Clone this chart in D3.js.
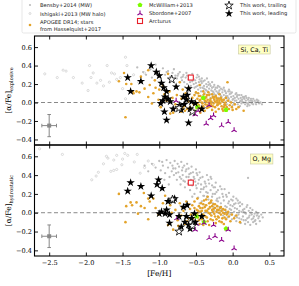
<!DOCTYPE html>
<html>
<head>
<style>
  body { margin: 0; background: #fff; }
  svg { display: block; }
</style>
</head>
<body>
  <div id="chart"></div>
</body>
<script src="https://d3js.org/d3.v7.min.js"></script>
<script>
// ---- data: [feh, alpha/Fe] ----
const bensbyTop = [
  [-1.30,0.38],[-1.22,0.33],[-1.18,0.30],[-1.12,0.36],[-1.05,0.41],[-1.00,0.34],[-0.95,0.37],[-0.92,0.30],
  [-0.88,0.34],[-0.85,0.28],[-0.82,0.32],[-0.80,0.36],[-0.78,0.29],[-0.76,0.26],[-0.74,0.31],[-0.72,0.33],
  [-0.70,0.27],[-0.69,0.24],[-0.67,0.30],[-0.66,0.22],[-0.64,0.27],[-0.63,0.32],[-0.62,0.20],[-0.60,0.25],
  [-0.59,0.29],[-0.58,0.22],[-0.57,0.18],[-0.56,0.26],[-0.55,0.23],[-0.54,0.28],[-0.53,0.20],[-0.52,0.16],
  [-0.51,0.24],[-0.50,0.21],[-0.49,0.27],[-0.48,0.18],[-0.47,0.14],[-0.46,0.22],[-0.45,0.25],[-0.44,0.19],
  [-0.43,0.12],[-0.42,0.21],[-0.41,0.16],[-0.40,0.23],[-0.39,0.18],[-0.38,0.10],[-0.37,0.14],[-0.36,0.20],
  [-0.35,0.17],[-0.34,0.12],[-0.33,0.22],[-0.32,0.15],[-0.31,0.09],[-0.30,0.18],[-0.29,0.13],[-0.28,0.16],
  [-0.27,0.07],[-0.26,0.11],[-0.25,0.19],[-0.24,0.14],[-0.23,0.08],[-0.22,0.12],[-0.21,0.16],[-0.20,0.10],
  [-0.19,0.05],[-0.18,0.13],[-0.17,0.09],[-0.16,0.15],[-0.15,0.06],[-0.14,0.11],[-0.13,0.03],[-0.12,0.08],
  [-0.11,0.13],[-0.10,0.05],[-0.09,0.10],[-0.08,0.02],[-0.07,0.07],[-0.06,0.12],[-0.05,0.04],[-0.04,0.09],
  [-0.03,0.01],[-0.02,0.06],[-0.01,0.11],[0.00,0.03],[0.01,0.07],[0.02,-0.01],[0.03,0.05],[0.04,0.09],
  [0.05,0.02],[0.06,0.06],[0.07,-0.02],[0.08,0.04],[0.09,0.08],[0.10,0.01],[0.11,0.05],[0.12,-0.01],
  [0.13,0.03],[0.14,0.06],[0.15,0.00],[0.16,0.04],[0.17,-0.02],[0.18,0.02],[0.19,0.05],[0.20,-0.01],
  [0.21,0.03],[0.22,0.00],[0.23,-0.03],[0.24,0.02],[0.25,0.04],[0.26,-0.01],[0.27,0.01],[0.28,-0.02],
  [0.30,0.02],[0.31,0.00],[0.32,-0.02],[0.34,0.01],[0.36,-0.01],[0.38,0.00],[0.40,-0.02],
  [-0.55,0.31],[-0.48,0.30],[-0.35,0.26],[-0.28,0.22],[-0.20,0.18],[-0.12,0.16],[-0.05,0.14],[0.05,0.10],
  [0.12,0.08],[-0.40,0.08],[-0.30,0.05],[-0.22,0.03],[-0.15,0.01],[-0.08,-0.02],[0.00,-0.03],[0.10,-0.04],
  [0.20,-0.04],[-0.65,0.17],[-0.72,0.22],[-0.85,0.22],[-0.98,0.25],[-1.10,0.27],[-0.60,0.12],[-0.50,0.10],
  [-0.12,-0.04],[0.18,0.07],[0.28,0.04],[-0.46,0.28],[-0.42,0.26],[-0.38,0.24],[-0.33,0.19],[-0.26,0.17],
  [-0.18,0.17],[-0.10,0.12],[-0.02,0.10],[0.07,0.08],[0.15,0.05],[0.22,0.05],[0.33,0.03],[-0.44,0.16],
  [-0.36,0.13],[-0.25,0.09],[-0.16,0.07],[-0.06,0.05],[0.03,0.02],[0.13,0.01],[-0.58,0.27],[-0.68,0.28],
  [-0.53,0.25],[-0.43,0.23],[-0.31,0.20],[-0.23,0.16],[-0.14,0.14],[-0.04,0.12],[0.06,0.07],[0.16,0.06],
  [0.26,0.02],[0.35,0.02],[-0.50,0.17],[-0.39,0.15],[-0.27,0.12],[-0.19,0.11],[-0.09,0.07],[0.01,0.04],
  [0.11,0.02],[0.21,-0.02],[-0.75,0.29],[-0.62,0.29],[-0.90,0.33]
];
const bensbyBot = [
  [-1.10,0.52],[-1.05,0.48],[-1.00,0.55],[-0.98,0.45],[-0.95,0.50],[-0.92,0.42],[-0.90,0.56],[-0.88,0.48],
  [-0.86,0.38],[-0.85,0.53],[-0.83,0.44],[-0.82,0.50],[-0.80,0.40],[-0.79,0.55],[-0.78,0.47],[-0.76,0.35],
  [-0.75,0.52],[-0.74,0.43],[-0.73,0.49],[-0.72,0.38],[-0.71,0.30],[-0.70,0.54],[-0.69,0.45],[-0.68,0.40],
  [-0.67,0.34],[-0.66,0.50],[-0.65,0.27],[-0.64,0.44],[-0.63,0.38],[-0.62,0.52],[-0.61,0.31],[-0.60,0.47],
  [-0.59,0.41],[-0.58,0.24],[-0.57,0.35],[-0.56,0.49],[-0.55,0.29],[-0.54,0.43],[-0.53,0.38],[-0.52,0.20],
  [-0.51,0.33],[-0.50,0.46],[-0.49,0.26],[-0.48,0.40],[-0.47,0.16],[-0.46,0.35],[-0.45,0.43],[-0.44,0.22],
  [-0.43,0.30],[-0.42,0.12],[-0.41,0.38],[-0.40,0.25],[-0.39,0.18],[-0.38,0.33],[-0.37,0.08],[-0.36,0.28],
  [-0.35,0.40],[-0.34,0.21],[-0.33,0.14],[-0.32,0.31],[-0.31,0.05],[-0.30,0.24],[-0.29,0.36],[-0.28,0.17],
  [-0.27,0.10],[-0.26,0.27],[-0.25,0.02],[-0.24,0.20],[-0.23,0.32],[-0.22,0.13],[-0.21,0.07],[-0.20,0.24],
  [-0.19,0.00],[-0.18,0.16],[-0.17,0.28],[-0.16,0.10],[-0.15,0.04],[-0.14,0.20],[-0.13,-0.03],[-0.12,0.13],
  [-0.11,0.25],[-0.10,0.07],[-0.09,0.01],[-0.08,0.17],[-0.07,-0.05],[-0.06,0.10],[-0.05,0.21],[-0.04,0.04],
  [-0.03,-0.02],[-0.02,0.14],[-0.01,-0.07],[0.00,0.07],[0.01,0.17],[0.02,0.01],[0.03,-0.04],[0.04,0.10],
  [0.05,-0.09],[0.06,0.04],[0.07,0.13],[0.08,-0.02],[0.09,-0.06],[0.10,0.07],[0.11,-0.11],[0.12,0.01],
  [0.13,0.09],[0.14,-0.04],[0.15,-0.08],[0.16,0.04],[0.17,-0.12],[0.18,-0.01],[0.19,0.06],[0.20,-0.06],
  [0.21,-0.10],[0.22,0.02],[0.23,-0.03],[0.24,-0.13],[0.25,0.00],[0.26,-0.07],[0.27,0.03],[0.28,-0.10],
  [0.29,-0.04],[0.30,-0.01],[0.31,-0.08],[0.32,-0.12],[0.33,-0.03],[0.35,-0.06],[0.37,-0.09],[0.39,-0.02],
  [0.41,-0.05],[0.21,0.37],[-1.20,0.50],[-1.15,0.44],[-0.93,0.35],[-0.87,0.30],[-0.77,0.42],[-0.70,0.36],
  [-0.63,0.46],[-0.57,0.42],[-0.52,0.36],[-0.47,0.31],[-0.44,0.37],[-0.40,0.18],[-0.36,0.22],[-0.33,0.35],
  [-0.30,0.11],[-0.27,0.20],[-0.24,0.27],[-0.21,0.15],[-0.18,0.06],[-0.15,0.25],[-0.12,0.03],[-0.09,0.19],
  [-0.06,-0.01],[-0.03,0.08],[0.00,0.13],[0.03,0.05],[0.06,-0.05],[0.09,0.02],[0.12,-0.07],[0.15,0.01],
  [0.18,-0.08],[0.22,-0.05],[0.26,-0.02],[0.30,-0.09],[0.34,-0.01],[0.08,0.10],[-0.26,0.06],[-0.39,0.27],
  [-0.55,0.17],[-0.68,0.48],[-0.81,0.47],[-0.96,0.54],[-0.60,0.38],[-0.49,0.42],[-0.02,0.03],[0.14,0.03],
  [-0.65,0.33],[-0.58,0.30],[-0.50,0.29],[-0.43,0.25],[-0.35,0.17],[-0.28,0.29],[-0.20,0.12],[-0.13,0.17],
  [-0.05,0.12],[0.02,0.09],[0.10,0.11],[0.17,0.00],[0.24,0.05],[0.32,0.01],[-0.45,0.10],[-0.37,0.31],
  [-0.30,0.38],[-0.22,0.22],[-0.16,0.02],[-0.08,0.06],[0.05,0.15],[0.20,0.08],[0.28,-0.06],[0.36,-0.04]
];
const ishigakiTop = [
  [-2.56,0.31],[-2.31,0.35],[-2.27,0.34],[-2.39,0.27],[-2.17,0.27],[-2.05,0.21],[-1.97,0.13],[-1.95,0.40],
  [-1.93,0.27],[-1.90,0.32],[-1.85,0.21],[-1.80,0.24],[-1.71,0.40],[-1.76,0.18],[-1.68,0.22],[-1.58,0.25],
  [-1.61,0.31],[-1.53,0.27],[-1.46,0.49],[-1.44,0.40],[-1.46,0.04],[-1.50,0.15],[-1.65,0.32],[-1.35,0.30],
  [-1.28,0.22],[-1.20,0.32]
];
const ishigakiBot = [
  [-2.63,0.68],[-2.32,0.62],[-1.92,0.35],[-1.86,0.39],[-1.83,0.43],[-1.76,0.52],[-1.70,0.58],[-1.66,0.44],
  [-1.62,0.56],[-1.58,0.61],[-1.58,0.46],[-1.51,0.51],[-1.50,0.57],[-1.43,0.61],[-1.34,0.54],[-1.30,0.62],
  [-1.26,0.42],[-1.20,0.48],[-1.15,0.55],[-1.72,0.60],[-1.47,0.63],[-1.62,0.45],[-1.08,0.51]
];
const apogeeTop = [
  [-1.48,0.32],[-1.55,0.23],[-1.46,-0.16],[-1.45,0.20],[-1.38,0.20],[-1.36,0.12],[-1.31,0.12],[-1.27,0.11],
  [-1.35,0.10],[-1.15,0.35],[-1.13,0.19],[-1.15,0.06],[-1.08,0.10],[-1.06,0.24],[-1.01,0.03],[-1.10,-0.01],
  [-0.88,0.31],[-0.85,-0.12],[-0.81,-0.11],[-0.72,0.22],[-0.68,0.14],[-0.76,0.08],[-0.07,0.22],[-0.45,0.19],
  [0.15,-0.09],[0.05,-0.07],[-0.01,-0.05],[-1.20,0.15],[-1.05,0.16],[-0.95,0.18],[-0.93,0.09],[-0.90,0.02],
  [-0.98,-0.05],[-0.78,-0.02],[-0.75,-0.06],[-0.70,0.04],[-0.66,-0.04],[-0.64,0.10],[-1.25,0.28],[-0.60,0.16],
  [-0.55,0.05],[-0.53,-0.02],[-0.52,0.08],[-0.50,0.00],[-0.49,-0.06],[-0.48,0.04],[-0.47,0.10],[-0.46,-0.03],
  [-0.45,0.02],[-0.44,0.07],[-0.43,-0.08],[-0.42,0.00],[-0.41,0.05],[-0.40,-0.04],[-0.39,0.09],[-0.38,0.02],
  [-0.37,-0.02],[-0.36,0.06],[-0.35,-0.06],[-0.34,0.03],[-0.33,0.00],[-0.32,0.08],[-0.31,-0.04],[-0.30,0.04],
  [-0.29,0.01],[-0.28,-0.08],[-0.27,0.06],[-0.26,-0.01],[-0.25,0.03],[-0.24,-0.05],[-0.23,0.07],[-0.22,0.00],
  [-0.21,-0.03],[-0.20,0.04],[-0.19,-0.07],[-0.18,0.02],[-0.17,-0.01],[-0.16,0.05],[-0.15,-0.04],[-0.14,0.01],
  [-0.13,-0.09],[-0.12,0.03],[-0.11,-0.02],[-0.10,0.00],[-0.08,-0.05],[-0.06,0.02],[-0.04,-0.03],[-0.02,0.00],
  [0.00,-0.08],[0.03,-0.02],[0.08,-0.05],[-0.58,-0.05],[-0.60,0.01],[-0.62,-0.07],[-0.65,-0.09],[-0.68,-0.06],
  [-0.70,-0.10],[-0.72,-0.04],[-0.57,-0.10],[-0.52,-0.09],[-0.44,-0.11],[-0.38,-0.09],[-0.33,0.11],[-0.28,0.09],
  [-0.23,-0.10],[-0.18,0.09],[-0.14,-0.07],[-0.09,0.05],[-0.05,-0.07],[-0.40,0.12],[-0.50,0.11],[-0.48,-0.01],
  [-0.44,0.03],[-0.41,-0.01],[-0.36,0.01],[-0.33,-0.05],[-0.29,-0.03],[-0.26,0.05],[-0.21,0.02],[-0.17,0.04],
  [-0.12,-0.05],[-0.46,0.07],[-0.39,0.04],[-0.31,0.02],[-0.24,0.01],[-0.19,0.00],[-0.27,-0.04],[-0.35,0.08],
  [-0.42,-0.05],[-0.82,0.05],[-0.86,0.12],[-1.00,0.14],[-0.62,0.04],[-0.37,0.05],[-0.30,-0.01],[-0.25,0.06],
  [-0.20,-0.02],[-0.15,0.03],[-0.10,-0.03],[-0.45,-0.06],[-0.34,-0.03],[-0.22,0.05]
];
const apogeeBot = [
  [-1.55,0.20],[-1.46,-0.10],[-1.45,0.07],[-1.39,0.11],[-1.37,0.08],[-1.31,0.11],[-1.29,-0.01],[-1.25,0.07],
  [-1.20,0.05],[-1.15,-0.07],[-1.15,0.15],[-1.21,0.21],[-1.13,0.12],[-1.08,0.15],[-1.05,0.05],[-1.01,-0.02],
  [-0.88,-0.13],[-0.81,-0.18],[-0.95,0.10],[-0.92,0.18],[-0.85,0.08],[-0.78,0.03],[-0.75,-0.08],[-0.72,0.10],
  [-0.70,-0.03],[-0.67,0.02],[-0.65,-0.12],[-0.63,0.12],[-0.60,-0.06],[-0.58,0.04],[-0.56,-0.15],[-0.55,0.08],
  [-0.53,-0.02],[-0.52,0.12],[-0.50,-0.09],[-0.49,0.03],[-0.48,0.15],[-0.47,-0.05],[-0.46,0.07],[-0.45,-0.12],
  [-0.44,0.01],[-0.43,0.10],[-0.42,-0.07],[-0.41,0.05],[-0.40,-0.02],[-0.39,0.13],[-0.38,-0.10],[-0.37,0.02],
  [-0.36,0.08],[-0.35,-0.05],[-0.34,0.17],[-0.33,0.00],[-0.32,-0.13],[-0.31,0.06],[-0.30,0.11],[-0.29,-0.03],
  [-0.28,0.03],[-0.27,-0.08],[-0.26,0.09],[-0.25,-0.01],[-0.24,0.05],[-0.23,-0.11],[-0.22,0.01],[-0.21,0.07],
  [-0.20,-0.04],[-0.19,0.03],[-0.18,-0.09],[-0.17,0.05],[-0.16,-0.02],[-0.15,0.02],[-0.14,-0.06],[-0.13,0.04],
  [-0.12,-0.12],[-0.11,-0.01],[-0.10,0.03],[-0.09,-0.07],[-0.07,0.00],[-0.05,-0.04],[-0.03,-0.09],[-0.01,-0.02],
  [0.02,-0.06],[0.05,-0.03],[0.10,-0.10],[-0.48,-0.01],[-0.44,0.05],[-0.40,0.09],[-0.37,-0.04],[-0.33,0.04],
  [-0.30,-0.07],[-0.27,0.01],[-0.24,-0.04],[-0.21,0.03],[-0.18,0.00],[-0.15,-0.10],[-0.36,0.14],[-0.32,0.10],
  [-0.42,0.02],[-0.46,-0.08],[-0.52,0.05],[-0.57,-0.02],[-0.62,-0.09],[-0.69,0.06],[-0.74,-0.14],[-0.28,0.07],
  [-0.22,-0.07],[-0.16,0.06],[-0.11,-0.05],[-0.06,0.01],[-0.40,-0.13],[-0.34,-0.09],[-0.60,0.09],[-0.83,0.00],
  [-0.43,-0.03],[-0.38,0.06],[-0.31,-0.01],[-0.26,0.04],[-0.19,-0.05],[-0.13,0.00],[-0.08,-0.02],[-0.35,0.02],
  [-0.29,0.13],[-0.24,0.09],[-0.47,0.02],[-0.54,-0.06]
];
const mcwTop = [[-0.48,-0.05],[-0.40,0.05],[-0.09,-0.08]];
const mcwBot = [[-0.49,-0.04],[-0.39,-0.10],[-0.09,-0.17]];
const sbordTop = [[-0.77,0.02],[-0.51,-0.13],[-0.47,-0.09],[-0.32,-0.03],[-0.36,-0.23],[-0.30,-0.17],
  [-0.26,-0.14],[-0.15,-0.25],[-0.06,-0.21],[0.02,-0.30]];
const sbordBot = [[-0.76,-0.06],[-0.51,-0.18],[-0.49,-0.12],[-0.39,-0.11],[-0.32,-0.27],[-0.26,-0.13],
  [-0.24,-0.25],[-0.15,-0.29],[-0.06,-0.18],[0.02,-0.38]];
const arcturusTop = [[-0.57,0.27]];
const arcturusBot = [[-0.57,0.32]];
const leadTop = [
  [-1.11,0.40],[-1.43,0.27],[-1.25,0.23],[-1.39,0.12],[-1.04,0.33],[-1.00,0.29],[-0.97,0.21],[-0.94,0.16],
  [-0.90,0.12],[-0.92,0.06],[-0.88,0.04],[-0.85,0.01],[-0.98,-0.01],[-0.93,-0.10],[-0.90,-0.19],[-0.60,-0.22],
  [-0.60,0.15],[-0.77,0.17],[-0.67,0.06],[-0.63,0.03],[-0.72,-0.03],[-0.56,0.01],[-0.51,-0.01],[-0.58,-0.07],
  [-0.70,-0.08],[-0.42,-0.07],[-0.62,0.08],[-0.81,-0.07],[-0.95,0.02],[-0.66,-0.02]
];
const leadBot = [
  [-1.39,0.32],[-1.43,0.23],[-1.25,0.28],[-1.01,0.35],[-1.03,0.30],[-0.96,0.26],[-1.11,0.18],[-0.88,0.12],
  [-0.79,0.15],[-0.62,0.08],[-0.67,0.06],[-0.97,0.01],[-0.92,-0.01],[-0.86,-0.02],[-1.00,-0.01],[-0.86,-0.11],
  [-0.65,-0.10],[-0.60,-0.13],[-0.56,-0.06],[-0.52,-0.01],[-0.42,-0.04],[-0.70,-0.15],[-0.58,-0.17],[-0.73,-0.04],
  [-0.90,0.03],[-0.51,-0.10],[-0.81,0.13],[-0.63,-0.04]
];
const trailTop = [[-0.83,0.25],[-0.73,-0.06],[-0.55,-0.10]];
const trailBot = [[-0.73,-0.20],[-0.82,0.14],[-0.55,-0.14]];
const errBar = { x: -2.5, y: -0.25, dx: 0.1, dy: 0.12 };
const xTicks = [-2.5, -2.0, -1.5, -1.0, -0.5, 0.0, 0.5];
const yTicks = [-0.4, -0.2, 0.0, 0.2, 0.4, 0.6];

const W = 299, H = 286;
const margin = { left: 34.5, right: 284 };
const panels = [
  { top: 36, bottom: 145, sub: 'explosive', label: 'Si, Ca, Ti', labelX: 238,
    bensby: bensbyTop, ishigaki: ishigakiTop, apogee: apogeeTop, mcw: mcwTop, sbord: sbordTop,
    arct: arcturusTop, lead: leadTop, trail: trailTop },
  { top: 145, bottom: 256, sub: 'hydrostatic', label: 'O, Mg', labelX: 250,
    bensby: bensbyBot, ishigaki: ishigakiBot, apogee: apogeeBot, mcw: mcwBot, sbord: sbordBot,
    arct: arcturusBot, lead: leadBot, trail: trailBot }
];

const cGrey = '#bdbdbd', cOrange = '#e3a32a', cGreen = '#7cfc00', cPurple = '#8b008b', cRed = '#e8202a';
const serif = 'DejaVu Serif, serif';
const sans = 'DejaVu Sans, sans-serif';

const svg = d3.select('#chart').append('svg').attr('width', W).attr('height', H);

const x = d3.scaleLinear().domain([-2.7, 0.7]).range([margin.left, margin.right]);
const fmt = d => (d < 0 ? '\u2212' : '') + Math.abs(d).toFixed(1);

const star = d3.symbol().type(d3.symbolStar).size(22);
function pentagon(r) {
  const p = d3.path();
  for (let i = 0; i < 5; i++) {
    const a = -Math.PI / 2 + i * 2 * Math.PI / 5;
    i ? p.lineTo(r * Math.cos(a), r * Math.sin(a)) : p.moveTo(r * Math.cos(a), r * Math.sin(a));
  }
  p.closePath();
  return p.toString();
}
function tri(r) {
  return `M0,0L0,${-r}M0,0L${-r * 0.866},${r * 0.5}M0,0L${r * 0.866},${r * 0.5}`;
}

panels.forEach((pn, i) => {
  const y = d3.scaleLinear().domain([-0.46, 0.72]).range([pn.bottom, pn.top]);
  const g = svg.append('g');

  g.append('defs').append('clipPath').attr('id', 'clip' + i)
    .append('rect').attr('x', margin.left).attr('y', pn.top)
    .attr('width', margin.right - margin.left).attr('height', pn.bottom - pn.top);
  const plot = g.append('g').attr('clip-path', `url(#clip${i})`);

  plot.selectAll('.bensby').data(pn.bensby).join('circle')
    .attr('cx', d => x(d[0])).attr('cy', d => y(d[1])).attr('r', 1.15).attr('fill', cGrey);
  plot.selectAll('.ish').data(pn.ishigaki).join('circle')
    .attr('cx', d => x(d[0])).attr('cy', d => y(d[1])).attr('r', 1.1)
    .attr('fill', 'none').attr('stroke', '#c4c4c4').attr('stroke-width', 0.6);

  plot.append('line').attr('x1', margin.left).attr('x2', margin.right)
    .attr('y1', y(0)).attr('y2', y(0))
    .attr('stroke', '#888').attr('stroke-width', 1).attr('stroke-dasharray', '4,2.5');

  plot.selectAll('.apo').data(pn.apogee).join('circle')
    .attr('cx', d => x(d[0])).attr('cy', d => y(d[1])).attr('r', 1.3).attr('fill', cOrange);

  plot.selectAll('.mcw').data(pn.mcw).join('path')
    .attr('transform', d => `translate(${x(d[0])},${y(d[1])})`)
    .attr('d', pentagon(2.6)).attr('fill', cGreen);
  plot.selectAll('.sb').data(pn.sbord).join('path')
    .attr('transform', d => `translate(${x(d[0])},${y(d[1])})`)
    .attr('d', tri(3)).attr('fill', 'none').attr('stroke', cPurple).attr('stroke-width', 1.1);
  plot.selectAll('.arc').data(pn.arct).join('rect')
    .attr('x', d => x(d[0]) - 2.5).attr('y', d => y(d[1]) - 2.5)
    .attr('width', 5).attr('height', 5)
    .attr('fill', '#fff').attr('stroke', cRed).attr('stroke-width', 1.1);

  plot.selectAll('.lead').data(pn.lead).join('path')
    .attr('transform', d => `translate(${x(d[0])},${y(d[1])})`)
    .attr('d', star).attr('fill', '#000');
  plot.selectAll('.trail').data(pn.trail).join('path')
    .attr('transform', d => `translate(${x(d[0])},${y(d[1])})`)
    .attr('d', star).attr('fill', '#fff').attr('stroke', '#000').attr('stroke-width', 0.8);

  // error bar
  const eb = g.append('g').attr('stroke', '#888').attr('stroke-width', 1);
  eb.append('line').attr('x1', x(errBar.x - errBar.dx)).attr('x2', x(errBar.x + errBar.dx))
    .attr('y1', y(errBar.y)).attr('y2', y(errBar.y));
  eb.append('line').attr('x1', x(errBar.x)).attr('x2', x(errBar.x))
    .attr('y1', y(errBar.y - errBar.dy)).attr('y2', y(errBar.y + errBar.dy));
  [errBar.x - errBar.dx, errBar.x + errBar.dx].forEach(v =>
    eb.append('line').attr('x1', x(v)).attr('x2', x(v))
      .attr('y1', y(errBar.y) - 1.8).attr('y2', y(errBar.y) + 1.8));
  [errBar.y - errBar.dy, errBar.y + errBar.dy].forEach(v =>
    eb.append('line').attr('x1', x(errBar.x) - 1.8).attr('x2', x(errBar.x) + 1.8)
      .attr('y1', y(v)).attr('y2', y(v)));
  g.append('rect').attr('x', x(errBar.x) - 2).attr('y', y(errBar.y) - 2)
    .attr('width', 4).attr('height', 4).attr('fill', '#888');

  // axes (inward ticks on all sides)
  const axL = g.append('g').attr('transform', `translate(${margin.left},0)`)
    .call(d3.axisLeft(y).tickValues(yTicks).tickSizeInner(-3.5).tickSizeOuter(0).tickFormat(fmt));
  const axR = g.append('g').attr('transform', `translate(${margin.right},0)`)
    .call(d3.axisRight(y).tickValues(yTicks).tickSizeInner(-3.5).tickSizeOuter(0).tickFormat(''));
  const axT = g.append('g').attr('transform', `translate(0,${pn.top})`)
    .call(d3.axisTop(x).tickValues(xTicks).tickSizeInner(-3.5).tickSizeOuter(0).tickFormat(''));
  const axB = g.append('g').attr('transform', `translate(0,${pn.bottom})`)
    .call(d3.axisBottom(x).tickValues(xTicks).tickSizeInner(-3.5).tickSizeOuter(0)
      .tickFormat(i === 1 ? fmt : ''));
  [axL, axR, axT, axB].forEach(a => {
    a.select('.domain').remove();
    a.selectAll('line').attr('stroke', '#000').attr('stroke-width', 0.9);
    a.selectAll('text').attr('font-family', serif).attr('font-size', 6.6).attr('fill', '#000');
  });
  axL.selectAll('text').attr('x', -2.5);
  axB.selectAll('text').attr('y', 4.5);

  g.append('rect').attr('x', margin.left).attr('y', pn.top)
    .attr('width', margin.right - margin.left).attr('height', pn.bottom - pn.top)
    .attr('fill', 'none').attr('stroke', '#000').attr('stroke-width', 1.1);

  // y label
  const cy = (pn.top + pn.bottom) / 2;
  const yl = g.append('text').attr('transform', `translate(11,${cy}) rotate(-90)`)
    .attr('text-anchor', 'middle').attr('font-family', serif).attr('font-size', 7.5);
  yl.append('tspan').text('[\u03b1/Fe]');
  yl.append('tspan').attr('font-size', 5).attr('dy', 1.8).text(pn.sub);

  // panel tag box
  const tg = g.append('g');
  const tt = tg.append('text').attr('x', pn.labelX + 2.5).attr('y', pn.top + 16)
    .attr('font-family', sans).attr('font-size', 6.3).text(pn.label);
  const bb = tt.node().getBBox();
  tg.insert('rect', 'text').attr('x', bb.x - 2).attr('y', bb.y - 1)
    .attr('width', bb.width + 4).attr('height', bb.height + 2)
    .attr('fill', '#ffffc4').attr('stroke', '#c8c8a0').attr('stroke-width', 0.6);
});

// x label
svg.append('text').attr('x', (margin.left + margin.right) / 2).attr('y', 276)
  .attr('text-anchor', 'middle').attr('font-family', serif).attr('font-size', 7.5).text('[Fe/H]');

// legend
const lg = svg.append('g');
lg.append('rect').attr('x', 22).attr('y', -2).attr('width', 274).attr('height', 35).attr('rx', 1.5)
  .attr('fill', '#fff').attr('stroke', '#ddd').attr('stroke-width', 0.7);
const legText = [
  [40, 7, 'Bensby+2014 (MW)'], [40, 15.5, 'Ishigaki+2013 (MW halo)'],
  [40, 23.5, 'APOGEE DR14; stars'], [40, 30.5, 'from Hasselquist+2017'],
  [149, 7, 'McWilliam+2013'], [149, 15, 'Sbordone+2007'], [149, 23, 'Arcturus'],
  [240, 7, 'This work, trailing'], [240, 15, 'This work, leading']
];
lg.selectAll('text').data(legText).join('text')
  .attr('x', d => d[0]).attr('y', d => d[1]).text(d => d[2])
  .attr('font-family', sans).attr('font-size', 5.2).attr('fill', '#222');
lg.append('circle').attr('cx', 30).attr('cy', 5).attr('r', 1.1).attr('fill', cGrey);
lg.append('circle').attr('cx', 30).attr('cy', 13.5).attr('r', 1.0).attr('fill', 'none')
  .attr('stroke', '#c4c4c4').attr('stroke-width', 0.6);
lg.append('circle').attr('cx', 30).attr('cy', 25).attr('r', 1.3).attr('fill', cOrange);
lg.append('path').attr('transform', 'translate(140,5)').attr('d', pentagon(2.6)).attr('fill', cGreen);
lg.append('path').attr('transform', 'translate(140,13.5)').attr('d', tri(3))
  .attr('stroke', cPurple).attr('stroke-width', 1.1).attr('fill', 'none');
lg.append('rect').attr('x', 137.5).attr('y', 18.5).attr('width', 5).attr('height', 5)
  .attr('fill', '#fff').attr('stroke', cRed).attr('stroke-width', 1.1);
lg.append('path').attr('transform', 'translate(229,5.5)').attr('d', star)
  .attr('fill', '#fff').attr('stroke', '#000').attr('stroke-width', 0.8);
lg.append('path').attr('transform', 'translate(229,13.5)').attr('d', star)
  .attr('fill', '#000');
</script>
</html>
